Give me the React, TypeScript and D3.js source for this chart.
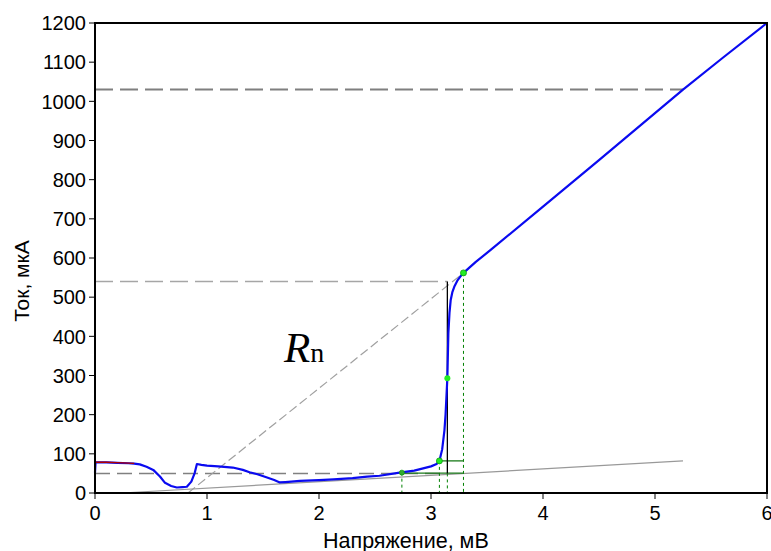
import React from "react";
import * as d3 from "d3";

const W = 771;
const H = 551;

// I-V curve (voltage, mV ; current, µA)
const ivV = [0, 0.005, 0.1, 0.2, 0.3, 0.35, 0.4, 0.46, 0.52, 0.58, 0.625, 0.68, 0.73, 0.78, 0.82, 0.86, 0.89, 0.91, 0.95, 1.0, 1.1, 1.23, 1.32, 1.38, 1.45, 1.53, 1.6, 1.65, 1.7, 1.83, 2.0, 2.13, 2.3, 2.43, 2.54, 2.72, 2.85, 2.93, 3.0, 3.05, 3.075, 3.1, 3.12, 3.13, 3.146, 3.155, 3.165, 3.176, 3.19, 3.21, 3.235, 3.26, 3.29, 3.4, 3.53, 4.0, 4.5, 5.0, 5.25, 5.6, 6.0];
const ivI = [52, 78, 78, 77, 76, 75, 73, 67, 59, 42, 26, 18, 14, 15, 16, 29, 51, 74, 72, 70, 68, 65, 59, 53, 48, 40, 33, 27, 28, 31, 33, 35, 38, 42, 44, 52, 57, 63, 68, 74, 82, 112, 160, 200, 293, 408, 460, 493, 512, 528, 542, 552, 562, 590, 620, 731, 850, 970, 1030, 1110, 1200];

const redV = [0.005, 0.1, 0.2, 0.3, 0.35];
const redI = [78.5, 78.5, 77.5, 76.5, 75.5];

const xTicks = [0, 1, 2, 3, 4, 5, 6];
const yTicks = [0, 100, 200, 300, 400, 500, 600, 700, 800, 900, 1000, 1100, 1200];

// reference lines
const hLevels = [1030, 540, 50];
const hEnds = [5.25, 3.146, 3.146];
const diagV = [0.83, 3.29];
const diagI = [0, 562];
const fitV = [0.24, 5.25];
const fitI = [0, 82];
const markV = [2.74, 3.075, 3.146, 3.29];
const markI = [52, 82, 293, 562];
const gapV = 3.146;

const x = d3.scaleLinear().domain([0, 6]).range([95, 767]);
const y = d3.scaleLinear().domain([0, 1200]).range([493, 23]);

export default function App() {
  const line = d3
    .line<[number, number]>()
    .x((d) => x(d[0]))
    .y((d) => y(d[1]));
  const iv = ivV.map((v, i) => [v, ivI[i]] as [number, number]);
  const red = redV.map((v, i) => [v, redI[i]] as [number, number]);
  const font = "'Liberation Sans', Arial, sans-serif";
  const hStyles = [
    { stroke: "#7f7f7f", w: 2, dash: "18 7" },
    { stroke: "#a6a6a6", w: 1.5, dash: "18 7" },
    { stroke: "#808080", w: 1.5, dash: "15 7" },
  ];
  return (
    <svg
      width={W}
      height={H}
      style={{ position: "absolute", left: 0, top: 0, background: "#fff" }}
      fontFamily={font}
    >
      {/* horizontal dashed reference lines */}
      {hLevels.map((lv, i) => (
        <line
          key={"h" + i}
          x1={x(0)}
          x2={x(hEnds[i])}
          y1={y(lv)}
          y2={y(lv)}
          stroke={hStyles[i].stroke}
          strokeWidth={hStyles[i].w}
          strokeDasharray={hStyles[i].dash}
        />
      ))}
      {/* diagonal dashed line (Rn) */}
      <line
        x1={x(diagV[0])}
        y1={y(diagI[0])}
        x2={x(diagV[1])}
        y2={y(diagI[1])}
        stroke="#a0a0a0"
        strokeWidth={1.2}
        strokeDasharray="9 4"
      />
      {/* subgap fit line */}
      <line
        x1={x(fitV[0])}
        y1={y(fitI[0])}
        x2={x(fitV[1])}
        y2={y(fitI[1])}
        stroke="#999"
        strokeWidth={1.2}
      />
      {/* green vertical dashed */}
      {markV.map((v, i) => (
        <line
          key={"gv" + i}
          x1={x(v)}
          x2={x(v)}
          y1={y(i === 2 ? 50 : markI[i])}
          y2={y(0)}
          stroke="#008000"
          strokeWidth={1}
          strokeDasharray="3 3"
        />
      ))}
      {/* green horizontals */}
      <line x1={x(markV[0])} x2={x(markV[3])} y1={y(51)} y2={y(51)} stroke="#1a7a1a" strokeWidth={1.3} />
      <line x1={x(markV[1])} x2={x(markV[3])} y1={y(markI[1])} y2={y(markI[1])} stroke="#1a7a1a" strokeWidth={1.3} />
      {/* black vertical at gap */}
      <line x1={x(gapV)} x2={x(gapV)} y1={y(540)} y2={y(50)} stroke="#000" strokeWidth={1.3} />

      {/* IV curve */}
      <path d={line(iv) || ""} fill="none" stroke="#0a0af0" strokeWidth={2.2} strokeLinejoin="round" />
      <path d={line(red) || ""} fill="none" stroke="#b00000" strokeWidth={1.3} />

      {/* markers */}
      {markV.map((v, i) => (
        <circle
          key={"m" + i}
          cx={x(v)}
          cy={y(markI[i])}
          r={i === 0 ? 2.5 : 3}
          fill={i === 0 ? "#2faa2f" : "#22ee22"}
          stroke={i === 2 ? "none" : "#119911"}
          strokeWidth={0.8}
        />
      ))}

      {/* frame */}
      <rect x={x(0)} y={y(1200)} width={x(6) - x(0)} height={y(0) - y(1200)} fill="none" stroke="#000" strokeWidth={2} />

      {/* y ticks */}
      {yTicks.map((t) => (
        <g key={"yt" + t}>
          <line x1={89} x2={x(0)} y1={y(t)} y2={y(t)} stroke="#000" strokeWidth={1} />
          <text x={86} y={y(t)} dy="0.36em" textAnchor="end" fontSize={20} fill="#000">
            {t}
          </text>
        </g>
      ))}
      {/* x ticks */}
      {xTicks.map((t) => (
        <g key={"xt" + t}>
          <line x1={x(t)} x2={x(t)} y1={y(0)} y2={y(0) + 6} stroke="#000" strokeWidth={1} />
          <text x={x(t)} y={520} textAnchor="middle" fontSize={20} fill="#000">
            {t}
          </text>
        </g>
      ))}

      {/* axis titles */}
      <text
        transform={`translate(28.5,281) rotate(-90)`}
        textAnchor="middle"
        fontSize={21}
        fill="#000"
      >
        Ток, мкА
      </text>
      <text x={323} y={548} fontSize={21.5} fill="#000">
        Напряжение, мВ
      </text>

      {/* Rn label */}
      <text x={284} y={362} fontFamily="'Liberation Serif', 'Times New Roman', serif" fill="#000">
        <tspan fontStyle="italic" fontSize={43}>R</tspan>
        <tspan fontSize={28}>n</tspan>
      </text>
    </svg>
  );
}
